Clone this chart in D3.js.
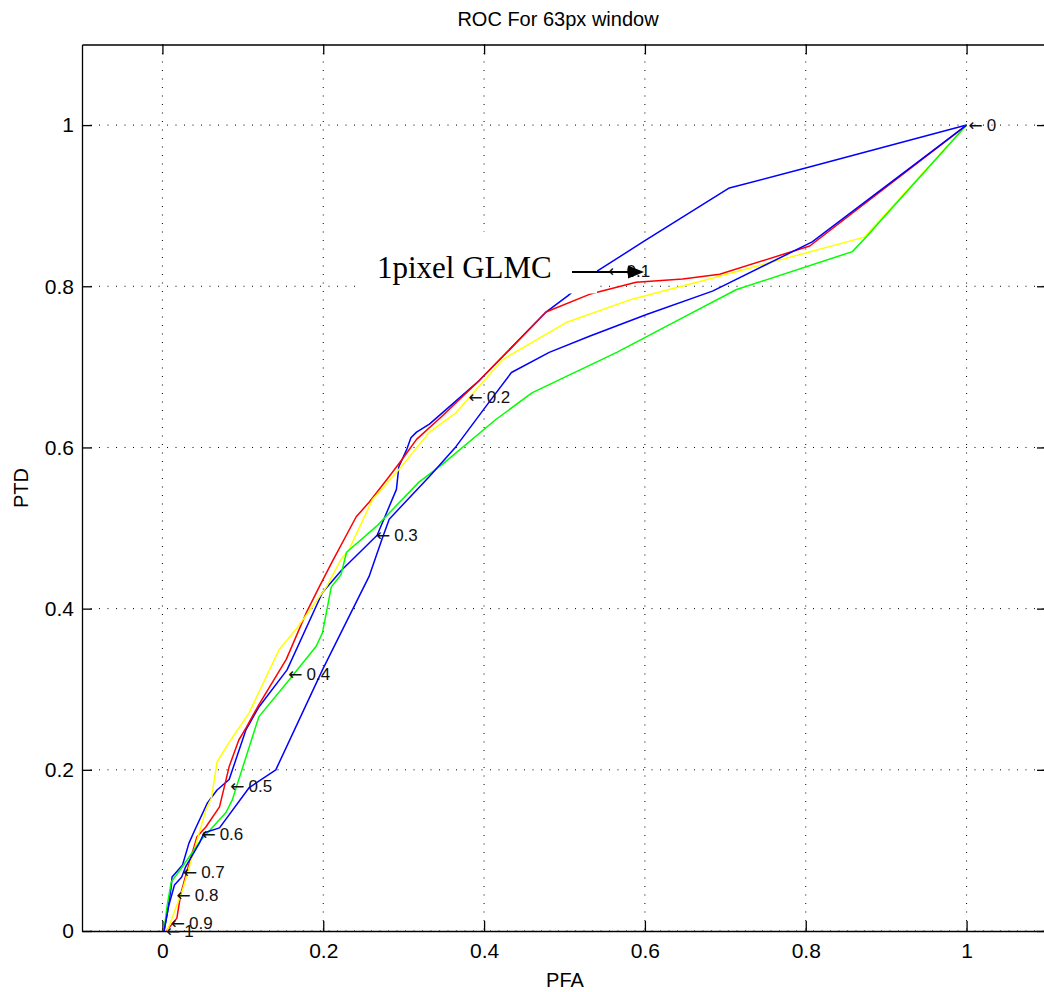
<!DOCTYPE html>
<html>
<head>
<meta charset="utf-8">
<script src="https://cdn.jsdelivr.net/npm/d3@7"></script>
<style>
  body { margin: 0; background: #fff; }
  svg { display: block; font-family: "Liberation Sans", Arial, sans-serif; }
</style>
</head>
<body>
<svg id="roc-svg" width="1044" height="992"></svg>
<script>
// ROC curves as [PFA, PTD]
var blueUpper = [[0.002,0],[0.006,0.022],[0.011,0.055],[0.012,0.067],[0.025,0.082],[0.033,0.109],
	[0.042,0.129],[0.056,0.159],[0.068,0.175],[0.083,0.188],[0.104,0.250],[0.120,0.278],[0.155,0.324],
	[0.199,0.420],[0.223,0.448],[0.267,0.491],[0.291,0.548],[0.294,0.576],[0.304,0.598],[0.309,0.612],
	[0.316,0.619],[0.332,0.629],[0.394,0.683],[0.477,0.768],[0.504,0.788],[0.541,0.819],[0.599,0.856],
	[0.705,0.922],[0.801,0.947],[1,1]];
var blueLower = [[0.002,0],[0.008,0.032],[0.015,0.057],[0.024,0.067],[0.029,0.080],[0.046,0.109],
	[0.052,0.122],[0.071,0.128],[0.108,0.178],[0.141,0.200],[0.199,0.324],[0.257,0.440],[0.273,0.486],
	[0.282,0.511],[0.332,0.564],[0.365,0.601],[0.406,0.656],[0.434,0.693],[0.481,0.718],[0.531,0.738],
	[0.602,0.765],[0.684,0.794],[0.808,0.855],[1,1]];
var redCurve = [[0.005,0],[0.018,0.016],[0.023,0.047],[0.031,0.076],[0.043,0.117],[0.054,0.129],
	[0.071,0.154],[0.083,0.204],[0.095,0.237],[0.104,0.252],[0.120,0.281],[0.154,0.337],[0.179,0.395],
	[0.195,0.427],[0.211,0.458],[0.241,0.514],[0.257,0.532],[0.282,0.564],[0.298,0.585],[0.316,0.610],
	[0.348,0.639],[0.394,0.683],[0.477,0.768],[0.531,0.790],[0.589,0.805],[0.647,0.809],[0.693,0.815],
	[0.805,0.850],[1,1]];
var yellowCurve = [[0.006,0],[0.025,0.051],[0.037,0.092],[0.054,0.150],[0.061,0.165],[0.068,0.210],
	[0.083,0.234],[0.108,0.271],[0.145,0.349],[0.166,0.374],[0.204,0.427],[0.222,0.461],[0.232,0.473],
	[0.261,0.535],[0.291,0.569],[0.332,0.619],[0.365,0.643],[0.423,0.709],[0.502,0.755],[0.584,0.784],
	[0.680,0.809],[0.873,0.861],[1,1]];
var greenCurve = [[0.002,0.001],[0.006,0.032],[0.011,0.061],[0.025,0.080],[0.048,0.113],[0.079,0.147],
	[0.087,0.163],[0.120,0.266],[0.158,0.312],[0.191,0.353],[0.199,0.370],[0.210,0.427],[0.222,0.442],
	[0.229,0.470],[0.266,0.502],[0.319,0.557],[0.348,0.579],[0.415,0.635],[0.460,0.668],[0.565,0.718],
	[0.643,0.759],[0.714,0.796],[0.858,0.843],[0.876,0.862],[0.892,0.880],[1,1]];

// threshold labels along the upper blue curve
var thresholds = ['0', '0.1', '0.2', '0.3', '0.4', '0.5', '0.6', '0.7', '0.8', '0.9', '1'];
var thresholdPts = [[1,1],[0.552,0.819],[0.378,0.663],[0.263,0.491],[0.154,0.319],[0.082,0.180],
	[0.046,0.120],[0.023,0.073],[0.015,0.045],[0.008,0.010],[0.002,0]];

var xTicks = [0, 0.2, 0.4, 0.6, 0.8, 1];
var yTicks = [0, 0.2, 0.4, 0.6, 0.8, 1];

var annotText = '1pixel GLMC';

var svg = d3.select('#roc-svg');

var padL = 82, padR = 1047, padT = 44.5, padB = 931;

var xscale = d3.scaleLinear()
	.domain([-0.1, 1.1])
	.range([padL, padR]);

var yscale = d3.scaleLinear()
	.domain([0, 1.1])
	.range([padB, padT]);

// dotted grid
var grid = svg.append('g').attr('class', 'grid');
grid.selectAll('.gx')
	.data(xTicks)
	.enter().append('line')
	.attr('x1', d => xscale(d)).attr('x2', d => xscale(d))
	.attr('y1', padT).attr('y2', padB);
grid.selectAll('.gy')
	.data(yTicks)
	.enter().append('line')
	.attr('x1', padL).attr('x2', padR)
	.attr('y1', d => yscale(d)).attr('y2', d => yscale(d));
grid.selectAll('line')
	.attr('stroke', '#000')
	.attr('stroke-width', 1)
	.attr('stroke-dasharray', '1,7.5');

// axes, ticks pointing inward on all four sides
var fmt = d3.format('~g');
var xaxis = d3.axisBottom(xscale).tickValues(xTicks).tickFormat(fmt)
	.tickSizeInner(-10).tickSizeOuter(0).tickPadding(12);
var yaxis = d3.axisLeft(yscale).tickValues(yTicks).tickFormat(fmt)
	.tickSizeInner(-10).tickSizeOuter(0).tickPadding(8);
var xtop = d3.axisTop(xscale).tickValues(xTicks).tickFormat('')
	.tickSizeInner(-10).tickSizeOuter(0);
var yright = d3.axisRight(yscale).tickValues(yTicks).tickFormat('')
	.tickSizeInner(-10).tickSizeOuter(0);

svg.append('g').attr('transform', 'translate(0,' + padB + ')').call(xaxis);
svg.append('g').attr('transform', 'translate(' + padL + ',0)').call(yaxis);
svg.append('g').attr('transform', 'translate(0,' + padT + ')').call(xtop);
svg.append('g').attr('transform', 'translate(' + padR + ',0)').call(yright);

svg.selectAll('.domain, .tick line')
	.attr('stroke', '#000')
	.attr('stroke-width', 1.3);
svg.selectAll('.tick text')
	.attr('fill', '#000')
	.attr('font-size', 21)
	.attr('font-family', '"Liberation Sans", Arial, sans-serif');

// curves
var line = d3.line()
	.x(d => xscale(d[0]))
	.y(d => yscale(d[1]));

var series = [
	{ pts: blueUpper, color: '#0000ff' },
	{ pts: redCurve, color: '#ff0000' },
	{ pts: yellowCurve, color: '#ffff00' },
	{ pts: greenCurve, color: '#00ff00' },
	{ pts: blueLower, color: '#0000ff' }
];

series.forEach(function(s) {
	svg.append('path')
		.datum(s.pts)
		.attr('d', line)
		.attr('fill', 'none')
		.attr('stroke', s.color)
		.attr('stroke-width', 1.5)
		.attr('stroke-linejoin', 'round');
});

// threshold labels, arrow glyph from DejaVu so it is full width
var thr = svg.selectAll('.thr')
	.data(thresholds)
	.enter().append('text')
	.attr('class', 'thr')
	.attr('x', (d, i) => xscale(thresholdPts[i][0]) + 2)
	.attr('y', (d, i) => yscale(thresholdPts[i][1]))
	.attr('dy', '0.35em')
	.attr('font-size', 17)
	.attr('fill', '#111');
thr.append('tspan')
	.attr('font-family', '"DejaVu Sans", sans-serif')
	.text('\u2190');
thr.append('tspan')
	.attr('dx', 4)
	.attr('font-family', '"Liberation Sans", Arial, sans-serif')
	.text(d => d);

// annotation text box with arrow
svg.append('rect')
	.attr('x', 356).attr('y', 232)
	.attr('width', 241).attr('height', 61.5)
	.attr('fill', '#fff');

svg.append('text')
	.attr('x', 377).attr('y', 278)
	.attr('font-family', '"Liberation Serif", "Times New Roman", serif')
	.attr('font-size', 31)
	.attr('fill', '#000')
	.text(annotText);

svg.append('line')
	.attr('x1', 572).attr('y1', 272)
	.attr('x2', 630).attr('y2', 272)
	.attr('stroke', '#000')
	.attr('stroke-width', 2);

svg.append('path')
	.attr('d', 'M628,265.5L644,272L628,278.5Z')
	.attr('fill', '#000');

// titles
svg.append('text')
	.attr('x', 558).attr('y', 26)
	.attr('text-anchor', 'middle')
	.attr('font-size', 20)
	.attr('fill', '#000')
	.text('ROC For 63px window');

svg.append('text')
	.attr('x', 565).attr('y', 987)
	.attr('text-anchor', 'middle')
	.attr('font-size', 20)
	.attr('fill', '#000')
	.text('PFA');

svg.append('text')
	.attr('transform', 'translate(28,488) rotate(-90)')
	.attr('text-anchor', 'middle')
	.attr('font-size', 20)
	.attr('fill', '#000')
	.text('PTD');
</script>
</body>
</html>
